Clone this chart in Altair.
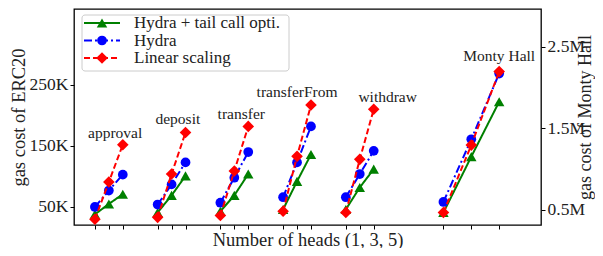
import altair as alt
import pandas as pd

# ---------------- data ----------------
groups = ["approval", "deposit", "transfer", "transferFrom", "withdraw"]
heads = [1, 3, 5]
group_x = [[1, 3, 5], [10, 12, 14], [19, 21, 23], [28, 30, 32], [37, 39, 41]]
monty_x = [51, 55, 59]

series = ["Hydra + tail call opti.", "Hydra", "Linear scaling"]
colors = ["#008000", "#0000ff", "#ff0000"]
shapes = ["triangle-up", "circle", "diamond"]
sizes = [110, 95, 135]
dashes = [[1, 0], [8, 3, 2, 3], [6, 3]]

# ERC20 gas cost (per function, heads 1,3,5)
tail_erc20 = [[38000, 55000, 71000], [41000, 69000, 101000], [43000, 69000, 104000],
              [46000, 92000, 136000], [46000, 82000, 112000]]
hydra_erc20 = [[50000, 77000, 103000], [54000, 87000, 123000], [57000, 98000, 140000],
               [66000, 123000, 182000], [66000, 104000, 142000]]
linear_erc20 = [[30000, 91000, 152000], [33000, 104000, 172000], [36000, 109000, 182000],
                [43000, 133000, 217000], [41000, 128000, 210000]]
# Monty Hall gas cost (heads 1,3,5)
tail_monty = [467000, 1153000, 1827000]
hydra_monty = [597000, 1366000, 2173000]
linear_monty = [467000, 1295000, 2197000]

erc20_values = [tail_erc20, hydra_erc20, linear_erc20]
monty_values = [tail_monty, hydra_monty, linear_monty]

# annotation positions
label_x = [3.9, 12.9, 22.0, 30.0, 43.0]
label_y = [170500, 194000, 202000, 238000, 230500]
monty_label = "Monty Hall"
monty_label_x = 59.0
monty_label_y = 2385000

left_ticks = [50000, 150000, 250000]
right_ticks = [500000, 1500000, 2500000]

# ---------------- build tables ----------------
rows = []
for si, s in enumerate(series):
    for gi, g in enumerate(groups):
        for hi, h in enumerate(heads):
            rows.append({"series": s, "group": g, "heads": h,
                         "x": group_x[gi][hi], "value": erc20_values[si][gi][hi]})
erc = pd.DataFrame(rows)

mrows = []
for si, s in enumerate(series):
    for hi, h in enumerate(heads):
        mrows.append({"series": s, "group": "Monty Hall", "heads": h,
                      "x": monty_x[hi], "value": monty_values[si][hi]})
monty = pd.DataFrame(mrows)

labels_df = pd.DataFrame({"x": label_x, "value": label_y, "text": groups})
monty_lab_df = pd.DataFrame({"x": [monty_label_x], "value": [monty_label_y], "text": [monty_label]})

all_x = [v for g in group_x for v in g] + monty_x

FONT = "Liberation Serif, Times New Roman, DejaVu Serif, serif"
TXT = "#222222"
W, H = 467, 216

X = alt.X("x:Q",
          scale=alt.Scale(domain=[-2, 65], nice=False, zero=False),
          axis=alt.Axis(values=all_x, labels=False, ticks=True, tickSize=4, tickWidth=1,
                        tickColor="black", domain=False, grid=False,
                        title="Number of heads (1, 3, 5)", titleFontSize=18.5,
                        titleX=W / 2, titleY=14, titleBaseline="middle", titleAlign="center"))

YL = alt.Y("value:Q",
           scale=alt.Scale(domain=[20500, 374300], nice=False, zero=False),
           axis=alt.Axis(orient="left", values=left_ticks,
                         labelExpr="format(datum.value/1000, 'd') + 'K'",
                         tickSize=4, tickWidth=1, tickColor="black", domain=False, grid=False,
                         labelFontSize=17.5, labelPadding=2,
                         title="gas cost of ERC20", titleFontSize=18.5,
                         titleAngle=270, titleX=-56, titleY=H / 2,
                         titleBaseline="middle", titleAlign="center"))

YR = alt.Y("value:Q",
           scale=alt.Scale(domain=[314000, 2965000], nice=False, zero=False),
           axis=alt.Axis(orient="right", values=right_ticks,
                         labelExpr="format(datum.value/1000000, '.1f') + 'M'",
                         tickSize=4, tickWidth=1, tickColor="black", domain=False, grid=False,
                         labelFontSize=17.5, labelPadding=2,
                         title="gas cost of Monty Hall", titleFontSize=18,
                         titleAngle=270, titleX=44, titleY=H / 2,
                         titleBaseline="middle", titleAlign="center"))

left_layers = []
right_layers = []
for si, s in enumerate(series):
    d = erc[erc.series == s]
    m = monty[monty.series == s]
    left_layers.append(
        alt.Chart(d).mark_line(color=colors[si], strokeWidth=2, strokeDash=dashes[si])
        .encode(x=X, y=YL, detail="group:N"))
    left_layers.append(
        alt.Chart(d).mark_point(filled=True, shape=shapes[si], size=sizes[si],
                                color=colors[si], opacity=1)
        .encode(x=X, y=YL))
    right_layers.append(
        alt.Chart(m).mark_line(color=colors[si], strokeWidth=2, strokeDash=dashes[si])
        .encode(x=X, y=YR, detail="group:N"))
    right_layers.append(
        alt.Chart(m).mark_point(filled=True, shape=shapes[si], size=sizes[si],
                                color=colors[si], opacity=1)
        .encode(x=X, y=YR))

left_layers.append(
    alt.Chart(labels_df).mark_text(fontSize=15.5, color=TXT, baseline="middle", align="center",
                                   font=FONT)
    .encode(x=X, y=YL, text="text:N"))
right_layers.append(
    alt.Chart(monty_lab_df).mark_text(fontSize=15.5, color=TXT, baseline="middle", align="center",
                                      font=FONT)
    .encode(x=X, y=YR, text="text:N"))

left = alt.layer(*left_layers)
right = alt.layer(*right_layers)

# ---------------- legend (manual, matplotlib style) ----------------
one = pd.DataFrame({"k": [0]})
legend_layers = [
    alt.Chart(one).mark_rect(fill="white", fillOpacity=0.8, stroke="#cccccc",
                             strokeWidth=1, cornerRadius=3)
    .encode(x=alt.value(8), x2=alt.value(215), y=alt.value(6), y2=alt.value(62))
]
entry_y = [14, 31.5, 49]
for si, s in enumerate(series):
    legend_layers.append(
        alt.Chart(one).mark_rule(color=colors[si], strokeWidth=2, strokeDash=dashes[si])
        .encode(x=alt.value(10), x2=alt.value(46), y=alt.value(entry_y[si])))
    legend_layers.append(
        alt.Chart(one).mark_point(filled=True, shape=shapes[si], size=sizes[si],
                                  color=colors[si], opacity=1)
        .encode(x=alt.value(28), y=alt.value(entry_y[si])))
    legend_layers.append(
        alt.Chart(one).mark_text(fontSize=17, color=TXT, align="left", baseline="middle",
                                 font=FONT)
        .encode(x=alt.value(60), y=alt.value(entry_y[si]), text=alt.value(s)))
legend = alt.layer(*legend_layers)

chart = (
    alt.layer(left, right, legend)
    .resolve_scale(y="independent")
    .properties(width=W, height=H,
                padding={"left": 66, "top": 1, "right": 54, "bottom": 23},
                autosize=alt.AutoSizeParams(type="none"))
    .configure(font=FONT)
    .configure_view(stroke="black", strokeWidth=1.3)
    .configure_axis(labelFont=FONT, titleFont=FONT, labelColor=TXT, titleColor=TXT,
                    titleFontWeight="normal")
)

chart.save("out.html", embed_options={"renderer": "svg", "actions": False})
